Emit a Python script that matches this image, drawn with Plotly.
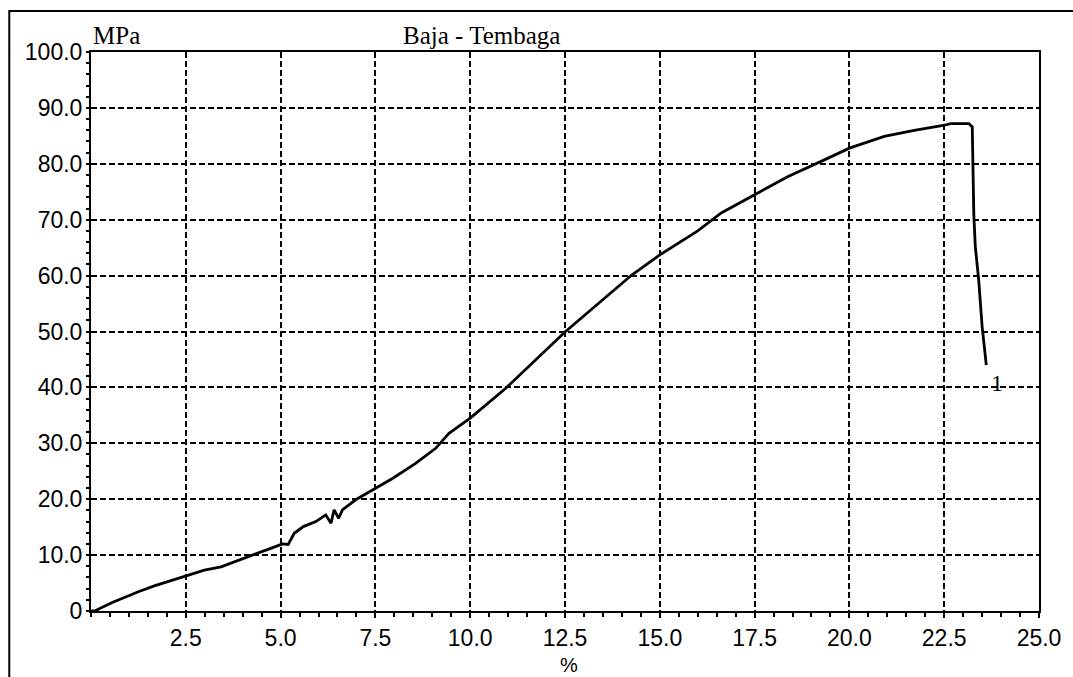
import plotly.graph_objects as go

# ---- data ----
strain_pct = [0, 0.1, 0.27, 0.62, 1.06, 1.23, 1.67, 2.11, 2.53, 2.99, 3.43, 3.87, 4.31, 4.74,
              5.05, 5.2, 5.36, 5.6, 5.93, 6.19, 6.33, 6.41, 6.53, 6.63, 6.98, 7.53, 7.95,
              8.56, 9.09, 9.44, 10.0, 10.93, 11.72, 12.5, 13.38, 14.26, 15.0, 16.0, 16.62,
              17.5, 18.37, 19.34, 20.0, 20.92, 21.71, 22.51, 22.67, 23.15, 23.24, 23.28,
              23.32, 23.41, 23.5, 23.61]
stress_mpa = [0, 0, 0.6, 1.7, 2.9, 3.4, 4.5, 5.4, 6.4, 7.3, 7.9, 9.0, 10.0, 11.2,
              12.0, 11.9, 13.9, 15.1, 16.0, 17.2, 15.7, 18.1, 16.6, 18.1, 19.9, 22.1, 23.7,
              26.4, 29.1, 31.8, 34.5, 39.8, 44.9, 49.9, 55.0, 60.1, 63.7, 68.0, 71.2,
              74.4, 77.7, 80.7, 82.8, 84.9, 86.0, 86.9, 87.2, 87.2, 86.6, 71.1,
              65.2, 59.2, 50.9, 44.0]

x_ticks = [2.5, 5.0, 7.5, 10.0, 12.5, 15.0, 17.5, 20.0, 22.5, 25.0]
x_ticktext = ["2.5", "5.0", "7.5", "10.0", "12.5", "15.0", "17.5", "20.0", "22.5", "25.0"]
y_ticks = [0, 10, 20, 30, 40, 50, 60, 70, 80, 90, 100]
y_ticktext = ["0", "10.0", "20.0", "30.0", "40.0", "50.0", "60.0", "70.0", "80.0", "90.0", "100.0"]

title_text = "Baja - Tembaga"
y_unit = "MPa"
x_unit = "%"
curve_label = "1"

SANS = "Liberation Sans, Arial, sans-serif"
SERIF = "Liberation Serif, Times New Roman, serif"

fig = go.Figure()
fig.add_trace(go.Scatter(x=strain_pct, y=stress_mpa, mode="lines",
                         line=dict(color="black", width=2.8), hoverinfo="skip",
                         showlegend=False))

grid_dash = "6px,3px"
fig.update_layout(
    width=1073, height=677,
    margin=dict(l=91, r=31, t=52, b=66),
    paper_bgcolor="white", plot_bgcolor="white",
    showlegend=False,
    xaxis=dict(range=[0, 25], tickvals=x_ticks, ticktext=x_ticktext,
               showgrid=True, gridcolor="black", gridwidth=2, griddash=grid_dash,
               zeroline=False, showline=True, linecolor="black", linewidth=2,
               mirror=True, ticks="outside", ticklen=5, tickwidth=2, tickcolor="black",
               minor=dict(dtick=0.5, tick0=0, ticks="outside", ticklen=4,
                          tickwidth=2, tickcolor="black", showgrid=False),
               tickfont=dict(family=SANS, size=23, color="black")),
    yaxis=dict(range=[0, 100], tickvals=y_ticks, ticktext=y_ticktext,
               showgrid=True, gridcolor="black", gridwidth=2, griddash=grid_dash,
               zeroline=False, showline=True, linecolor="black", linewidth=2,
               mirror=True, ticks="outside", ticklen=2, tickwidth=2, tickcolor="black",
               minor=dict(dtick=2, tick0=0, ticks="outside", ticklen=3,
                          tickwidth=2, tickcolor="black", showgrid=False),
               tickfont=dict(family=SANS, size=23, color="black")),
)

# outer frame
fig.add_shape(type="rect", xref="paper", yref="paper",
              x0=-0.0862, x1=1.08, y0=-0.2, y1=1.0733,
              line=dict(color="black", width=2), fillcolor="rgba(0,0,0,0)", layer="above")

fig.add_annotation(text=y_unit, xref="paper", yref="paper", x=0.0, y=1.029,
                   xanchor="left", yanchor="middle", showarrow=False,
                   font=dict(family=SERIF, size=25, color="black"))
fig.add_annotation(text=title_text, xref="paper", yref="paper", x=0.412, y=1.029,
                   xanchor="center", yanchor="middle", showarrow=False,
                   font=dict(family=SERIF, size=25, color="black"))
fig.add_annotation(text=x_unit, xref="paper", yref="paper", x=0.5047, y=-0.097,
                   xanchor="center", yanchor="middle", showarrow=False,
                   font=dict(family=SANS, size=20, color="black"))
fig.add_annotation(text=curve_label, xref="x", yref="y", x=23.88, y=40.8,
                   xanchor="center", yanchor="middle", showarrow=False,
                   font=dict(family=SERIF, size=24, color="black"))

fig.write_html("out.html")
